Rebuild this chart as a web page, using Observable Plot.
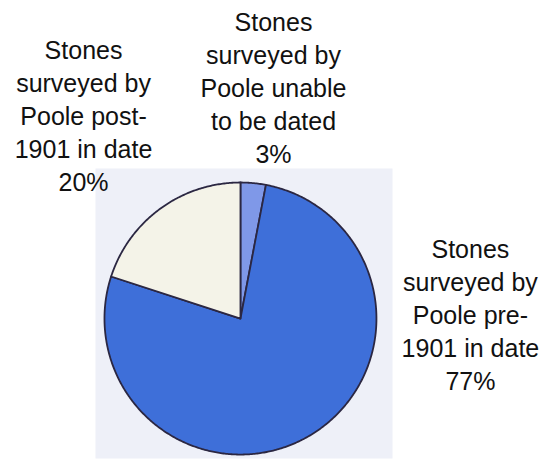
<!DOCTYPE html>
<html><head><meta charset="utf-8">
<script src="https://cdn.jsdelivr.net/npm/d3@7"></script>
<script src="https://cdn.jsdelivr.net/npm/@observablehq/plot@0.6"></script>
<style>body{margin:0;background:#fff}</style>
</head><body><div id="chart"></div>
<script>
// Data (clockwise from 12 o'clock)
const categories = ["unable", "pre", "post"];
const values = [3, 77, 20];
const labelText = [
  "Stones\nsurveyed by\nPoole unable\nto be dated",
  "Stones\nsurveyed by\nPoole pre-\n1901 in date",
  "Stones\nsurveyed by\nPoole post-\n1901 in date"
];
const colors = ["#7f98e8", "#3e6fd9", "#f4f3e8"];

// label anchor positions (data space, pie radius = 1)
const labelPos = [[0.243, 1.706], [1.691, 0.035], [-1.154, 1.5]];

const arcs = d3.pie().sort(null).value(d => d)(values);
const pts = [];
arcs.forEach((a, i) => {
  const cat = categories[i];
  pts.push({cat, x: 0, y: 0});
  const n = Math.max(2, Math.ceil((a.endAngle - a.startAngle) / 0.01));
  for (let k = 0; k <= n; k++) {
    const t = a.startAngle + (a.endAngle - a.startAngle) * k / n;
    pts.push({cat, x: Math.sin(t), y: Math.cos(t)});
  }
  pts.push({cat, x: 0, y: 0});
});

const labels = categories.map((c, i) => ({
  text: labelText[i] + "\n" + values[i] + "%",
  x: labelPos[i][0], y: labelPos[i][1]
}));

const chart = Plot.plot({
  width: 542, height: 464,
  marginLeft: 95, marginRight: 150, marginTop: 168, marginBottom: 6,
  x: {domain: [-1.066, 1.118], axis: null},
  y: {domain: [-1.029, 1.103], axis: null},
  color: {domain: categories, range: colors},
  style: {fontFamily: "'Liberation Sans', Arial, sans-serif", background: "#fff"},
  marks: [
    Plot.frame({fill: "#eef0f8", stroke: "none"}),
    Plot.line(pts, {x: "x", y: "y", z: "cat", fill: "cat", stroke: "#2b2742", strokeWidth: 1.8, strokeLinejoin: "round"}),
    Plot.text(labels, {x: "x", y: "y", text: "text", fontSize: 25, lineHeight: 1.32, lineAnchor: "middle", textAnchor: "middle", fill: "#111"})
  ]
});
document.getElementById("chart").appendChild(chart);
</script>
</body></html>
